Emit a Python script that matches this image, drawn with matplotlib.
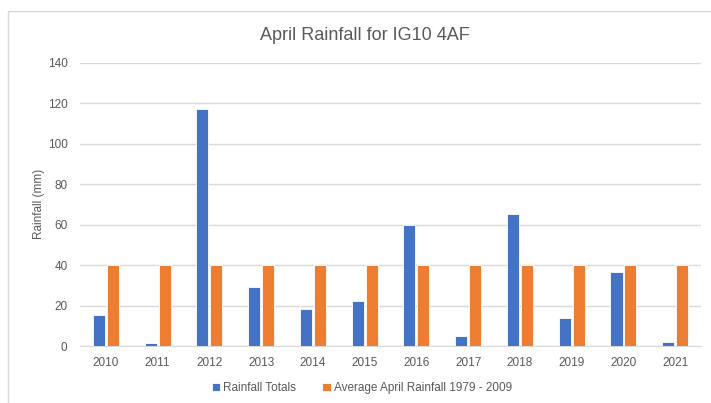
import matplotlib.pyplot as plt
import numpy as np
from matplotlib.patches import Rectangle

# data
years = ['2010', '2011', '2012', '2013', '2014', '2015',
         '2016', '2017', '2018', '2019', '2020', '2021']
rainfall_totals = [15.5, 1.6, 117, 29.4, 18.1, 22.2, 60, 4.8, 65, 14, 36.7, 2]
april_average = [40] * 12

blue = '#4472C4'
orange = '#ED7D31'
text_col = '#595959'
grid_col = '#D9D9D9'

plt.rcParams['font.family'] = ['Liberation Sans', 'DejaVu Sans']

fig = plt.figure(figsize=(7.11, 4.03), dpi=100)
ax = fig.add_axes([0.1125, 0.1414, 0.8735, 0.703])

# light chart frame (top and left edges visible)
fig.patches.append(Rectangle((8 / 711, -0.1), 1.2, 1 - 11 / 403 + 0.1,
                             transform=fig.transFigure, fill=False,
                             edgecolor=grid_col, linewidth=1))

x = np.arange(len(years))
w = 0.235
ax.bar(x - 0.135, rainfall_totals, w, color=blue, edgecolor='white',
       linewidth=0.6, label='Rainfall Totals', zorder=3)
ax.bar(x + 0.135, april_average, w, color=orange, edgecolor='white',
       linewidth=0.6, label='Average April Rainfall 1979 - 2009', zorder=3)

ax.set_xlim(-0.5, len(years) - 0.5)
ax.set_ylim(0, 140)
ax.set_yticks(range(0, 141, 20))
ax.set_xticks(x)
ax.set_xticklabels(years)
ax.grid(axis='y', color=grid_col, linewidth=1, zorder=0)
for s in ['top', 'right', 'left']:
    ax.spines[s].set_visible(False)
ax.spines['bottom'].set_color(grid_col)
ax.tick_params(length=0, colors=text_col, labelsize=8.5)
ax.tick_params(axis='y', pad=9)
ax.tick_params(axis='x', pad=8)

ax.set_ylabel('Rainfall (mm)', color=text_col, fontsize=8.5)
ax.yaxis.set_label_coords(-0.057, 0.5)
fig.text(365 / 711, 1 - 35 / 403, 'April Rainfall for IG10 4AF',
         ha='center', va='center', fontsize=13, color=text_col)

fig.legend(loc='center', bbox_to_anchor=(362 / 711, 1 - 388 / 403), ncol=2,
           frameon=False, fontsize=8.5, labelcolor=text_col,
           handlelength=0.7, handleheight=0.7, handletextpad=0.3,
           columnspacing=2.2)

fig.savefig('out.png', dpi=100)
